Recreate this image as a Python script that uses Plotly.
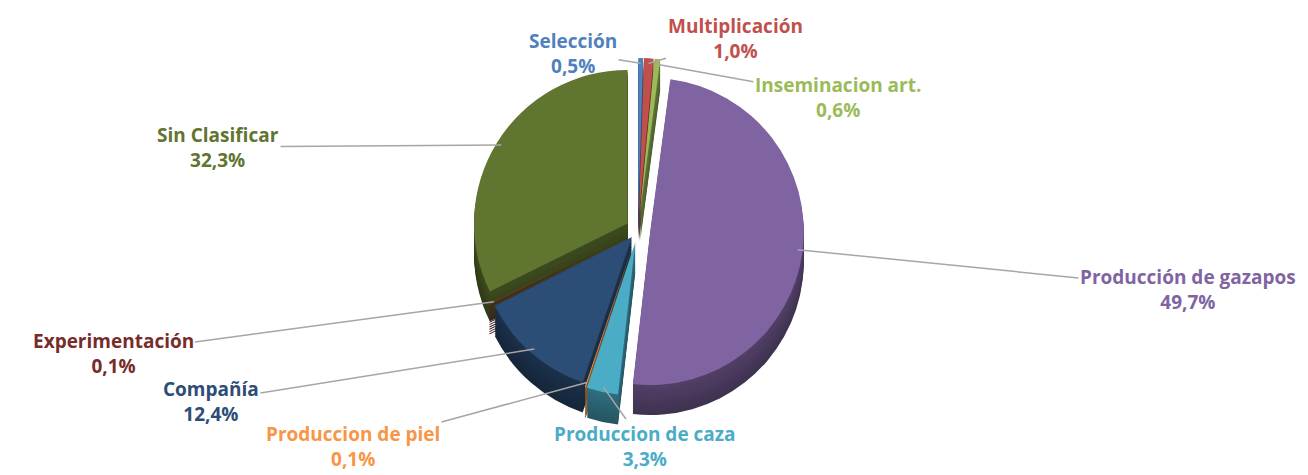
import math
import plotly.graph_objects as go

# ---- data ----
categories = ["Selección", "Multiplicación", "Inseminacion art.", "Producción de gazapos",
              "Produccion de caza", "Produccion de piel", "Compañía", "Experimentación",
              "Sin Clasificar"]
shares = [0.5, 1.0, 0.6, 49.7, 3.3, 0.1, 12.4, 0.1, 32.3]
top_colors = ["#4F81BD", "#C0504D", "#9BBB59", "#8064A2", "#4BACC6",
              "#F79646", "#2C4D75", "#772C2A", "#5F7530"]
text_colors = ["#4F81BD", "#C0504D", "#9BBB59", "#8064A2", "#4BACC6",
               "#F79646", "#2C4D75", "#772C2A", "#5F7530"]
pulls = [0.12, 0.12, 0.12, 0.08, 0.08, 0.08, 0.06, 0.08, 0.08]

# label anchor positions (pixels in the 1308x475 canvas)
label_pos = [(565, 45), (727, 30), (830, 89), (1180, 281), (637, 438),
             (345, 438), (203, 393), (105, 345), (210, 139)]

W, H = 1308, 475


def shade(hex_color, f):
    r, g, b = int(hex_color[1:3], 16), int(hex_color[3:5], 16), int(hex_color[5:7], 16)
    return "#%02X%02X%02X" % (int(r * f), int(g * f), int(b * f))


fig = go.Figure()

# geometry of the top face (paper domain)
cx_px, cy_px = 630, 222
half_h = 172
depth = 30
n_layers = 14
max_pull = max(pulls)
x_dom = [0, 2 * cx_px / W]

for k in range(n_layers):
    off = depth * (1 - k / (n_layers - 1))
    is_top = (k == n_layers - 1)
    yc = cy_px + off
    y0 = 1 - (yc + half_h) / H
    y1 = 1 - (yc - half_h) / H
    f = 1.0 if is_top else 0.50 + 0.15 * k / (n_layers - 1)
    cols = top_colors if is_top else [shade(c, f) for c in top_colors]
    fig.add_trace(go.Pie(
        labels=categories,
        values=shares,
        sort=False,
        direction="clockwise",
        rotation=0,
        pull=pulls,
        marker=dict(colors=cols, line=dict(width=0)),
        textinfo="none",
        hoverinfo="label+percent" if is_top else "skip",
        domain=dict(x=x_dom, y=[y0, y1]),
        showlegend=False,
    ))

# leader lines + labels
R = half_h / (1 + max_pull)
cum = 0.0
annotations = []
for cat, v, col, p, (lx, ly) in zip(categories, shares, text_colors, pulls, label_pos):
    mid = 2 * math.pi * (cum + v / 2) / 100.0
    cum += v
    rr = R * (1 + p) * 0.97
    tx = cx_px + rr * math.sin(mid)
    ty = cy_px - rr * math.cos(mid)
    pct = ("%.1f%%" % v).replace(".", ",")
    annotations.append(dict(
        x=tx, y=ty, xref="x", yref="y",
        ax=lx, ay=ly, axref="x", ayref="y",
        text="<b>%s</b><br><b>%s</b>" % (cat, pct),
        showarrow=True, arrowhead=0, arrowwidth=1.5, arrowcolor="#A6A6A6",
        standoff=0,
        font=dict(family="Open Sans, sans-serif", size=19, color=col),
        align="center",
    ))

fig.update_layout(
    width=W, height=H,
    margin=dict(l=0, r=0, t=0, b=0),
    paper_bgcolor="white", plot_bgcolor="rgba(0,0,0,0)",
    xaxis=dict(range=[0, W], visible=False, fixedrange=True),
    yaxis=dict(range=[H, 0], visible=False, fixedrange=True),
    annotations=annotations,
)

fig.write_html("out.html")
